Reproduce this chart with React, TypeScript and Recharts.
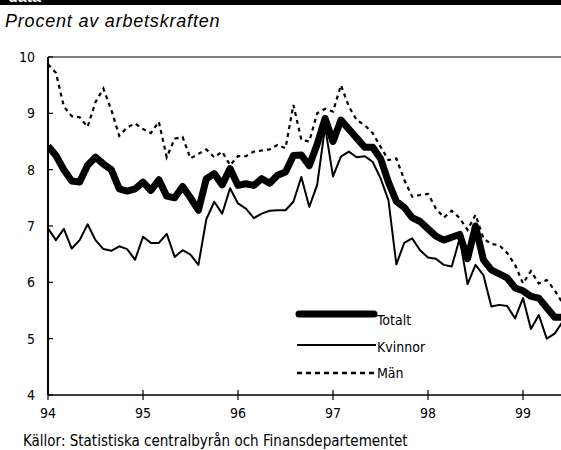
import React from 'react';
import { LineChart, Line, XAxis, YAxis, ReferenceLine } from 'recharts';

// Arbetslöshet, månadsvärden jan 1994 – jun 1999 (procent av arbetskraften)
const totalt = [
  8.42, 8.25, 8.0, 7.8, 7.78, 8.08, 8.22, 8.1, 8.0, 7.66, 7.62, 7.66,
  7.78, 7.63, 7.82, 7.53, 7.5, 7.7, 7.5, 7.28, 7.84, 7.93, 7.73, 8.02,
  7.72, 7.75, 7.72, 7.84, 7.76, 7.9, 7.96, 8.25, 8.26, 8.07, 8.45, 8.91,
  8.5, 8.88, 8.72, 8.56, 8.4, 8.4, 8.2, 7.78, 7.44, 7.33, 7.15, 7.08,
  6.95, 6.82, 6.75, 6.8, 6.85, 6.42, 7.0, 6.4, 6.22, 6.15, 6.08, 5.9,
  5.85, 5.75, 5.72, 5.55, 5.38, 5.38,
];

const kvinnor = [
  6.96, 6.75, 6.95, 6.6, 6.75, 7.03, 6.75, 6.59, 6.56, 6.64, 6.59, 6.4,
  6.81, 6.7, 6.7, 6.86, 6.45, 6.57, 6.49, 6.31, 7.12, 7.43, 7.22, 7.67,
  7.4, 7.31, 7.14, 7.22, 7.27, 7.28, 7.28, 7.43, 7.87, 7.34, 7.73, 8.76,
  7.88, 8.23, 8.32, 8.22, 8.24, 8.14, 7.85, 7.46, 6.32, 6.7, 6.78, 6.57,
  6.44, 6.42, 6.31, 6.28, 6.78, 5.97, 6.31, 6.13, 5.57, 5.6, 5.58, 5.36,
  5.72, 5.17, 5.42, 5.0, 5.09, 5.3,
];

const man = [
  9.87, 9.72, 9.12, 8.95, 8.93, 8.76, 9.2, 9.44, 9.06, 8.6, 8.75, 8.82,
  8.72, 8.65, 8.85, 8.22, 8.55, 8.58, 8.2, 8.28, 8.36, 8.22, 8.32, 8.08,
  8.24, 8.24, 8.32, 8.34, 8.36, 8.44, 8.38, 9.15, 8.53, 8.5, 9.0, 9.08,
  9.03, 9.5, 9.12, 8.88, 8.79, 8.65, 8.41, 8.17, 8.2, 7.82, 7.52, 7.55,
  7.57, 7.31, 7.15, 7.27, 7.14, 6.93, 7.2, 6.78, 6.68, 6.66, 6.52, 6.31,
  5.98, 6.2, 5.98, 6.04, 5.86, 5.63,
];

const yearTicks = [0, 12, 24, 36, 48, 60];
const yearLabels = ['94', '95', '96', '97', '98', '99'];
const yTicks = [4, 5, 6, 7, 8, 9, 10];

const data = totalt.map((t, i) => ({ m: i, totalt: t, kvinnor: kvinnor[i], man: man[i] }));

const NARROW = "'Liberation Sans Narrow', 'DejaVu Sans Condensed', sans-serif";

const YTick = (props: any) => {
  const { x, y, payload } = props;
  return (
    <g>
      <line x1={x} x2={x + 5} y1={y} y2={y} stroke="#000" strokeWidth={1.2} />
      <text x={x - 13} y={y} dy={5} textAnchor="end" fontFamily={NARROW} fontSize={14} fill="#000">
        {payload.value}
      </text>
    </g>
  );
};

const XTick = (props: any) => {
  const { x, y, payload, index } = props;
  return (
    <g>
      <line x1={x} x2={x} y1={y - 5} y2={y + 5} stroke="#000" strokeWidth={1.2} />
      <text x={x} y={y + 23} textAnchor="middle" fontFamily={NARROW} fontSize={14} fill="#000">
        {yearLabels[index] ?? payload.value}
      </text>
    </g>
  );
};

const legendItems = [
  { name: 'Totalt', width: 7, dash: undefined as string | undefined, y: 314, ty: 325 },
  { name: 'Kvinnor', width: 2, dash: undefined as string | undefined, y: 345, ty: 352 },
  { name: 'Män', width: 2.5, dash: '5 4', y: 373, ty: 378 },
];

export default function App() {
  return (
    <div style={{ position: 'absolute', left: 0, top: 0, width: 561, height: 450, background: '#fff', overflow: 'hidden' }}>
      <div style={{ position: 'absolute', left: 0, top: 0, width: 561, height: 5, background: '#000', overflow: 'hidden' }}>
        <span style={{ position: 'absolute', left: 8, top: -12, color: '#fff', fontFamily: 'Liberation Sans, sans-serif', fontWeight: 'bold', fontSize: 16 }}>
          data
        </span>
      </div>
      <div
        style={{
          position: 'absolute', left: 5, top: 11, fontFamily: 'Liberation Sans, sans-serif', fontStyle: 'italic',
          fontSize: 18, letterSpacing: 0.8, color: '#000', lineHeight: '20px',
        }}
      >
        Procent av arbetskraften
      </div>
      <div style={{ position: 'absolute', left: 0, top: 0 }}>
        <LineChart width={561} height={420} data={data} margin={{ top: 57, right: 0, bottom: 0, left: 0 }}>
          <XAxis
            type="number"
            dataKey="m"
            domain={[0, 64.8]}
            allowDataOverflow
            ticks={yearTicks}
            interval={0}
            height={25}
            tickSize={0}
            tickMargin={0}
            tick={<XTick />}
            tickLine={false}
            axisLine={{ stroke: '#000', strokeWidth: 1.5 }}
          />
          <YAxis
            type="number"
            domain={[4, 10]}
            ticks={yTicks}
            interval={0}
            width={48}
            tickSize={0}
            tickMargin={0}
            tick={<YTick />}
            tickLine={false}
            axisLine={{ stroke: '#000', strokeWidth: 2 }}
          />
          <ReferenceLine y={10} stroke="#555" strokeWidth={1.5} />
          <Line type="linear" dataKey="man" stroke="#000" strokeWidth={2.2} strokeDasharray="4 4" dot={false} isAnimationActive={false} />
          <Line type="linear" dataKey="kvinnor" stroke="#000" strokeWidth={2} strokeLinejoin="round" dot={false} isAnimationActive={false} />
          <Line type="linear" dataKey="totalt" stroke="#000" strokeWidth={7} strokeLinejoin="round" dot={false} isAnimationActive={false} />
        </LineChart>
      </div>
      <svg style={{ position: 'absolute', left: 0, top: 0 }} width={561} height={450}>
        {legendItems.map((it) => (
          <g key={it.name}>
            <line
              x1={it.width > 5 ? 299 : 297}
              x2={it.width > 5 ? 374 : 376}
              y1={it.y}
              y2={it.y}
              stroke="#000"
              strokeWidth={it.width}
              strokeLinecap={it.width > 5 ? 'round' : 'butt'}
              strokeDasharray={it.dash}
            />
            <text x={377} y={it.ty} fontFamily={NARROW} fontSize={14} fill="#000">
              {it.name}
            </text>
          </g>
        ))}
      </svg>
      <div style={{ position: 'absolute', left: 23, top: 431, fontFamily: NARROW, fontSize: 15, color: '#000', lineHeight: '20px' }}>
        Källor: Statistiska centralbyrån och Finansdepartementet
      </div>
    </div>
  );
}
